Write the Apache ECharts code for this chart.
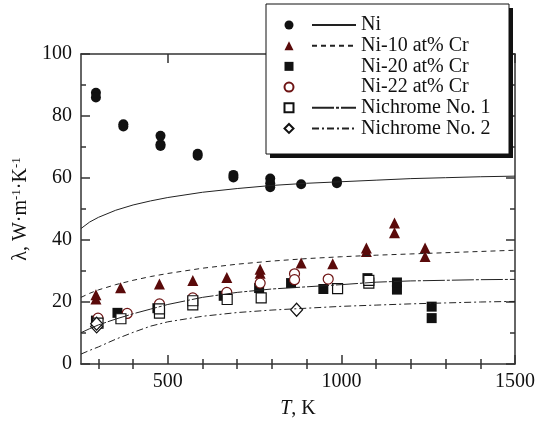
<!DOCTYPE html>
<html>
<head>
<meta charset="utf-8">
<script src="https://cdn.jsdelivr.net/npm/echarts@6/dist/echarts.min.js"></script>
<style>
  html, body { margin: 0; padding: 0; background: #fff; }
  #chart { width: 543px; height: 424px; }
</style>
</head>
<body>
<div id="chart"></div>
<script>
// ---- tick labels ----
const xMajorTicks = [500, 1000, 1500]
const xMinorTicks = [300, 400, 600, 700, 800, 900, 1100, 1200, 1300, 1400]

// ---- measured points [T, lambda] ----
const niPoints = [
  [293, 87.5], [293, 86.0], [372, 77.3], [372, 76.6], [479, 73.6], [479, 70.9], [479, 70.3],
  [586, 67.8], [586, 67.2], [689, 61.0], [689, 60.2], [795, 59.8], [795, 58.3], [795, 57.0],
  [884, 58.0], [987, 58.9], [987, 58.3]
]
const ni10Points = [
  [293, 21.0], [293, 22.3], [364, 24.6], [476, 25.8], [572, 26.9], [670, 27.9],
  [766, 29.3], [766, 30.6], [884, 32.6], [975, 32.3], [1072, 36.3], [1072, 37.4],
  [1153, 42.3], [1153, 45.5], [1241, 34.7], [1241, 37.4]
]
const ni20Points = [
  [293, 14.0], [355, 16.5], [470, 18.0], [661, 22.0], [763, 24.5], [855, 26.1],
  [948, 24.2], [1075, 27.7], [1160, 24.0], [1160, 26.3], [1260, 18.5], [1260, 14.8]
]
const ni22Points = [
  [299, 14.8], [383, 16.3], [476, 19.4], [572, 21.3], [670, 23.1], [766, 26.1],
  [865, 29.1], [865, 27.2], [962, 27.4]
]
const nichrome1Points = [
  [299, 13.2], [365, 14.6], [476, 16.4], [476, 17.8], [572, 19.1], [572, 20.4],
  [671, 20.8], [769, 21.3], [989, 24.3], [1079, 26.1], [1079, 27.0]
]
const nichrome2Points = [[295, 12.1], [295, 13.0], [871, 17.5]]

// ---- calculated curves ----
const curveT = [250, 275, 300, 350, 400, 450, 500, 600, 700, 800, 900, 1000, 1100, 1200, 1300, 1400, 1500]
const niCurve = [43.7, 45.8, 47.3, 49.6, 51.3, 52.6, 53.7, 55.4, 56.6, 57.6, 58.3, 58.8, 59.3, 59.8, 60.1, 60.4, 60.6]
const ni10Curve = [21.5, 22.8, 23.9, 25.6, 27.0, 28.2, 29.2, 30.9, 32.2, 33.2, 34.0, 34.6, 35.1, 35.5, 35.9, 36.3, 36.7]
const nichrome1Curve = [10.1, 11.4, 12.6, 14.5, 16.2, 17.7, 19.2, 21.5, 23.1, 24.2, 24.9, 25.6, 26.4, 26.8, 27.0, 27.2, 27.3]
const nichrome2Curve = [3.2, 4.4, 5.5, 8.0, 10.2, 12.2, 13.6, 15.4, 16.6, 17.4, 18.0, 18.6, 19.0, 19.4, 19.7, 20.0, 20.2]

const FONT = 'Liberation Serif'
const INK = '#111'
const MAROON = '#5a0a0a'

const pair = (ys) => curveT.map((t, i) => [t, ys[i]])

const chart = echarts.init(document.getElementById('chart'))

const xBase = {
  type: 'value', min: 250, max: 1500,
  splitLine: { show: false },
  axisLine: { show: true, onZero: false, lineStyle: { color: '#333', width: 1.5 } }
}
const yBase = {
  type: 'value', min: 0, max: 100, interval: 20,
  splitLine: { show: false },
  axisLine: { show: true, onZero: false, lineStyle: { color: '#333', width: 1.5 } },
  axisTick: { inside: true, length: 9, lineStyle: { color: '#333', width: 1.5 } },
  minorTick: { show: true, splitNumber: 2, length: 5, lineStyle: { color: '#333', width: 1.5 } }
}

chart.setOption({
  animation: false,
  grid: { left: 81, right: 28, top: 54, bottom: 60 },
  xAxis: [
    {
      ...xBase, position: 'bottom',
      name: '{i|T}{a|, K}', nameLocation: 'middle', nameGap: 35,
      nameTextStyle: {
        rich: {
          i: { fontFamily: FONT, fontSize: 20, fontStyle: 'italic', color: INK },
          a: { fontFamily: FONT, fontSize: 20, color: INK }
        }
      },
      axisTick: { inside: true, length: 9, customValues: xMajorTicks, lineStyle: { color: '#333', width: 1.5 } },
      axisLabel: { customValues: xMajorTicks, formatter: (v) => String(v), margin: 8, fontFamily: FONT, fontSize: 20, color: INK }
    },
    {
      ...xBase, position: 'top',
      axisTick: { inside: true, length: 9, customValues: xMajorTicks, lineStyle: { color: '#333', width: 1.5 } },
      axisLabel: { show: false }
    },
    {
      ...xBase, position: 'bottom', axisLine: { show: false },
      axisTick: { inside: true, length: 5, customValues: xMinorTicks, lineStyle: { color: '#333', width: 1.5 } },
      axisLabel: { show: false }
    },
    {
      ...xBase, position: 'top', axisLine: { show: false },
      axisTick: { inside: true, length: 5, customValues: xMinorTicks, lineStyle: { color: '#333', width: 1.5 } },
      axisLabel: { show: false }
    }
  ],
  yAxis: [
    {
      ...yBase, position: 'left',
      name: '{a|λ, W·m}{s|-1}{a|·K}{s|-1}', nameLocation: 'middle', nameRotate: 90, nameGap: 45,
      nameTextStyle: {
        rich: {
          a: { fontFamily: FONT, fontSize: 20, color: INK },
          s: { fontFamily: FONT, fontSize: 13, color: INK, padding: [0, 0, 10, 0] }
        }
      },
      axisLabel: { margin: 9, fontFamily: FONT, fontSize: 20, color: INK }
    },
    { ...yBase, position: 'right', axisLabel: { show: false } }
  ],
  graphic: [
    { type: 'rect', z: 5, shape: { x: 270, y: 8, width: 243, height: 150 }, style: { fill: INK } },
    { type: 'rect', z: 5, shape: { x: 266, y: 4, width: 243, height: 150 }, style: { fill: '#fff', stroke: INK, lineWidth: 1 } }
  ],
  legend: [
    {
      z: 6, selectedMode: false, orient: 'vertical', left: 283.5, top: 14.6, padding: 0,
      itemWidth: 9, itemHeight: 9, itemGap: 0,
      data: ['Ni data', 'Ni-10 at% Cr data', 'Ni-20 at% Cr data', 'Ni-22 at% Cr data', 'Nichrome No. 1 data', 'Nichrome No. 2 data'],
      formatter: () => 'x',
      textStyle: { fontFamily: FONT, fontSize: 20, lineHeight: 20.7, color: 'rgba(0,0,0,0)' }
    },
    {
      z: 6, selectedMode: false, orient: 'vertical', left: 311, top: 14.6, padding: 0,
      itemWidth: 44, itemHeight: 14, itemGap: 0,
      itemStyle: { opacity: 0 },
      data: [
        'Ni', 'Ni-10 at% Cr',
        { name: 'Ni-20 at% Cr data', icon: 'none' },
        { name: 'Ni-22 at% Cr data', icon: 'none' },
        'Nichrome No. 1', 'Nichrome No. 2'
      ],
      formatter: (name) => name.replace(' data', ''),
      textStyle: { fontFamily: FONT, fontSize: 20, lineHeight: 20.7, color: INK }
    }
  ],
  series: [
    { name: 'Ni', type: 'line', symbol: 'none', data: pair(niCurve), lineStyle: { color: '#222', width: 1 }, itemStyle: { color: '#222' } },
    { name: 'Ni-10 at% Cr', type: 'line', symbol: 'none', data: pair(ni10Curve), lineStyle: { color: '#222', width: 1, type: [5, 4] }, itemStyle: { color: '#222' } },
    { name: 'Nichrome No. 1', type: 'line', symbol: 'none', data: pair(nichrome1Curve), lineStyle: { color: '#222', width: 1, type: [22, 2, 3, 2] }, itemStyle: { color: '#222' } },
    { name: 'Nichrome No. 2', type: 'line', symbol: 'none', data: pair(nichrome2Curve), lineStyle: { color: '#222', width: 1, type: [7, 3, 2, 3] }, itemStyle: { color: '#222' } },
    { name: 'Ni data', type: 'scatter', symbol: 'circle', symbolSize: 10, data: niPoints, itemStyle: { color: INK, opacity: 1 } },
    { name: 'Ni-10 at% Cr data', type: 'scatter', symbol: 'triangle', symbolSize: 11, data: ni10Points, itemStyle: { color: MAROON, opacity: 1 } },
    { name: 'Ni-20 at% Cr data', type: 'scatter', symbol: 'rect', symbolSize: 10, data: ni20Points, itemStyle: { color: INK, opacity: 1 } },
    { name: 'Ni-22 at% Cr data', type: 'scatter', symbol: 'circle', symbolSize: 10, data: ni22Points, itemStyle: { color: '#fff', borderColor: '#6e1414', borderWidth: 1.2, opacity: 1 } },
    { name: 'Nichrome No. 1 data', type: 'scatter', symbol: 'rect', symbolSize: 10, data: nichrome1Points, itemStyle: { color: '#fff', borderColor: INK, borderWidth: 1.2, opacity: 1 } },
    { name: 'Nichrome No. 2 data', type: 'scatter', symbol: 'diamond', symbolSize: [12, 13], data: nichrome2Points, itemStyle: { color: '#fff', borderColor: INK, borderWidth: 1.2, opacity: 1 } }
  ]
})

window.addEventListener('resize', () => chart.resize())
</script>
</body>
</html>
